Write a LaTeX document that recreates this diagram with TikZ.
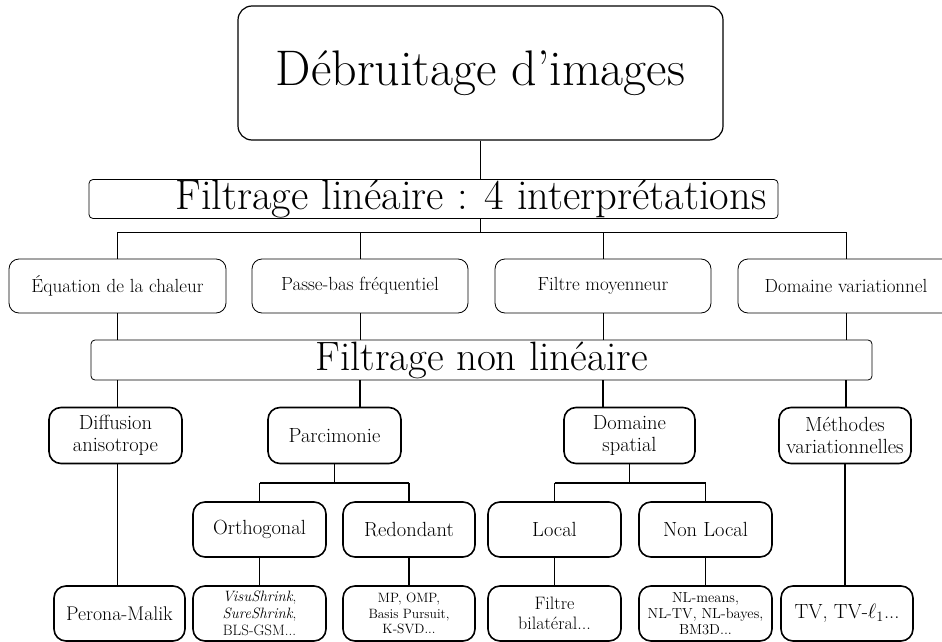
\documentclass[tikz,border=0pt]{standalone}
\usepackage{fontspec}
\begin{document}
\begin{tikzpicture}[x=1pt,y=-1pt,
  box/.style={draw, align=center, inner sep=0pt, fill=white},
  topbox/.style={box, rounded corners=14pt, line width=1.2pt, minimum width=485, minimum height=134, font=\fontsize{50}{56}\selectfont},
  bandbox/.style={box, rounded corners=4pt, line width=0.8pt, minimum height=39, font=\fontsize{41}{45}\selectfont},
  rowtwo/.style={box, rounded corners=10pt, line width=0.8pt, minimum width=216, minimum height=54, font=\fontsize{19}{22}\selectfont},
  rowthree/.style={box, rounded corners=12pt, line width=1.6pt, minimum width=132, minimum height=56, font=\fontsize{20.5}{22}\selectfont},
  leaf/.style={box, rounded corners=12pt, line width=1.6pt, minimum width=132, minimum height=55},
  thin/.style={line width=0.8pt},
  mid/.style={line width=1.2pt},
  thick/.style={line width=1.6pt},
  heavy/.style={line width=2.4pt}]
\useasboundingbox (0,0) rectangle (942,642);

% nodes
\node[topbox] (top) at (480.5,73) {Débruitage d’images};
\node[bandbox, minimum width=689, font=\fontsize{42.5}{46}\selectfont] (lin) at (433.5,199) {\hspace*{75pt}Filtrage linéaire : 4 interprétations};

\node[rowtwo, minimum width=217] (eq) at (117.5,286) {Équation de la chaleur};
\node[rowtwo] (pb) at (360,286) {Passe-bas fréquentiel};
\node[rowtwo] (fm) at (603,286) {Filtre moyenneur};
\node[rowtwo] (dv) at (846,286) {Domaine variationnel};

\node[bandbox, minimum width=781, minimum height=40] (nl) at (481.5,360) {Filtrage non linéaire};

\node[rowthree, minimum width=133] (diff) at (115.5,435.5) {Diffusion\\anisotrope};
\node[rowthree, minimum width=133] (parc) at (334.5,435.5) {Parcimonie};
\node[rowthree, minimum width=131] (dom) at (629.5,435.5) {Domaine\\spatial};
\node[rowthree] (meth) at (845,435.5) {Méthodes\\variationnelles};

\node[rowthree, minimum width=133, minimum height=55] (orth) at (259.5,529.5) {Orthogonal};
\node[rowthree, minimum height=55] (red) at (409,529.5) {Redondant};
\node[rowthree, minimum width=133, minimum height=55] (loc) at (554.5,529.5) {Local};
\node[rowthree, minimum width=133, minimum height=55] (nonloc) at (705.5,529.5) {Non Local};

\node[leaf, minimum width=131, font=\fontsize{19.8}{22}\selectfont] (pm) at (119.5,613.5) {Perona-Malik};
\node[leaf, minimum width=133, font=\fontsize{15}{16.7}\selectfont] (visu) at (259.5,613.5) {\textit{VisuShrink},\\\textit{SureShrink},\\BLS-GSM...};
\node[leaf, font=\fontsize{13.5}{15.5}\selectfont] (mp) at (409,613.5) {MP, OMP,\\Basis Pursuit,\\K-SVD...};
\node[leaf, minimum width=133, font=\fontsize{18}{20}\selectfont] (fb) at (554.5,613.5) {Filtre\\bilatéral...};
\node[leaf, minimum width=133, font=\fontsize{14.5}{16.3}\selectfont] (nlm) at (705.5,613.5) {NL-means,\\NL-TV, NL-bayes,\\BM3D...};
\node[leaf, font=\fontsize{20.5}{22}\selectfont] (tv) at (847,613.5) {TV, TV-$\ell_1$...};

\coordinate (busA) at (0,232);
\coordinate (busB) at (0,483);

% connectors, upper part
\draw[thin] (top.south) -- (top.south |- lin.north);
\draw[thin] (top.south |- lin.south) -- (top.south |- busA);
\draw[thin] (eq.north |- busA) -- (dv.north |- busA);
\foreach \n in {eq,pb,fm,dv}{
  \draw[thin] (\n.north |- busA) -- (\n.north);
  \draw[thin] (\n.south) -- (\n.south |- nl.north);
}
\draw[mid] (eq.south |- nl.south) -- (eq.south |- diff.north);
\draw[mid] (pb.south |- nl.south) -- (pb.south |- parc.north);
\draw[mid] (fm.south |- nl.south) -- (fm.south |- dom.north);
\draw[mid] (dv.south |- nl.south) -- (dv.south |- meth.north);

% connectors, lower part
\draw[thick] (eq.south |- diff.south) -- (eq.south |- pm.north);
\draw[thick] (meth.south) -- (meth.south |- tv.north);
\draw[thick] (parc.south) -- (parc.south |- busB);
\draw[heavy] (orth.north |- busB) -- (red.north |- busB);
\draw[thick] (orth.north |- busB) -- (orth.north);
\draw[thick] (red.north |- busB) -- (red.north);
\draw[thick] (dom.south) -- (dom.south |- busB);
\draw[heavy] (loc.north |- busB) -- (nonloc.north |- busB);
\draw[thick] (loc.north |- busB) -- (loc.north);
\draw[thick] (nonloc.north |- busB) -- (nonloc.north);
\draw[thick] (orth.south) -- (visu.north);
\draw[thick] (red.south) -- (mp.north);
\draw[thick] (loc.south) -- (fb.north);
\draw[thick] (nonloc.south) -- (nlm.north);
\end{tikzpicture}
\end{document}
